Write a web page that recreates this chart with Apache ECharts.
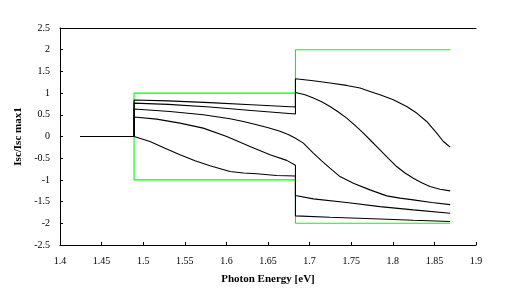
<!DOCTYPE html>
<html>
<head>
<meta charset="utf-8">
<script src="https://cdn.jsdelivr.net/npm/echarts@6/dist/echarts.min.js"></script>
<style>
  html, body { margin: 0; padding: 0; background: #fff; }
  #chart { width: 511px; height: 302px; }
</style>
</head>
<body>
<div id="chart"></div>
<script>
// Normalised short-circuit current vs photon energy [eV]
const xTicks = [1.4, 1.45, 1.5, 1.55, 1.6, 1.65, 1.7, 1.75, 1.8, 1.85, 1.9];
const yTicks = [-2.5, -2, -1.5, -1, -0.5, 0, 0.5, 1, 1.5, 2, 2.5];

// ideal response (upper and lower limits); band edges at 1.489 and 1.683 eV
const idealUpper = [[1.489, -1], [1.489, 1], [1.683, 1], [1.683, 2], [1.869, 2]];
const idealLower = [[1.489, -1], [1.683, -1], [1.683, -2], [1.869, -2]];

// response below the first band edge
const baseline = [[1.424, 0], [1.489, 0]];

// simulated curves, [energy, value]
const curve1 = [[1.489, 0], [1.489, 0.84], [1.53, 0.82], [1.58, 0.78], [1.63, 0.73], [1.683, 0.68],
  [1.683, 1.331], [1.7045, 1.285], [1.7245, 1.231], [1.7446, 1.177], [1.7606, 1.116], [1.7726, 1.039],
  [1.7846, 0.962], [1.8006, 0.847], [1.8167, 0.692], [1.8287, 0.54], [1.8407, 0.346], [1.8528, 0.078],
  [1.8608, -0.115], [1.869, -0.245]];
const curve2 = [[1.489, 0], [1.489, 0.77], [1.53, 0.74], [1.58, 0.68], [1.63, 0.6], [1.683, 0.52],
  [1.683, 1.015], [1.6945, 0.96], [1.7045, 0.886], [1.7145, 0.8], [1.7245, 0.692], [1.7346, 0.565],
  [1.7446, 0.424], [1.7546, 0.255], [1.7646, 0.078], [1.7746, -0.115], [1.7846, -0.307],
  [1.7946, -0.505], [1.8046, -0.692], [1.8147, -0.84], [1.8247, -0.96], [1.8347, -1.065],
  [1.8447, -1.153], [1.8567, -1.215], [1.869, -1.253]];
const curve3 = [[1.489, 0], [1.489, 0.632], [1.5322, 0.577], [1.5722, 0.5], [1.6043, 0.408], [1.6204, 0.345],
  [1.6364, 0.27], [1.6504, 0.2], [1.6644, 0.12], [1.675, 0.04], [1.683, -0.04], [1.6925, -0.152],
  [1.7045, -0.383], [1.7145, -0.56], [1.7245, -0.73], [1.7365, -0.923], [1.7526, -1.075], [1.7726, -1.23],
  [1.7927, -1.368], [1.8087, -1.42], [1.8247, -1.46], [1.8467, -1.52], [1.869, -1.569]];
const curve4 = [[1.489, 0], [1.489, 0.45], [1.5162, 0.4], [1.5442, 0.308], [1.5722, 0.193], [1.6004, 0.0],
  [1.6284, -0.23], [1.6524, -0.42], [1.6725, -0.55], [1.683, -0.66],
  [1.683, -1.36], [1.7045, -1.437], [1.7446, -1.52], [1.7846, -1.615], [1.8247, -1.69], [1.869, -1.77]];
const curve5 = [[1.489, 0], [1.5082, -0.115], [1.5262, -0.27], [1.5442, -0.42], [1.5623, -0.56],
  [1.5803, -0.676], [1.6043, -0.807], [1.6204, -0.84], [1.6364, -0.86], [1.6604, -0.9], [1.683, -0.91],
  [1.683, -1.83], [1.7245, -1.86], [1.7846, -1.9], [1.8247, -1.93], [1.869, -1.96]];

const serif = '"Liberation Serif", "Times New Roman", serif';

const blackCurve = (data) => ({
  type: 'line', data: data, symbol: 'none', animation: false,
  lineStyle: { color: '#000', width: 1.1 }, z: 3
});
const greenCurve = (data) => ({
  type: 'line', data: data, symbol: 'none', animation: false,
  lineStyle: { color: '#00ff00', width: 1.1 }, z: 2
});

const chart = echarts.init(document.getElementById('chart'), null, { renderer: 'canvas' });
chart.setOption({
  backgroundColor: '#fff',
  animation: false,
  grid: { left: 60, right: 35, top: 28, bottom: 57 },
  xAxis: [{
    type: 'value', min: xTicks[0], max: xTicks[xTicks.length - 1], interval: 0.05,
    name: 'Photon Energy [eV]', nameLocation: 'middle', nameGap: 29,
    nameTextStyle: { fontFamily: serif, fontWeight: 'bold', fontSize: 11, color: '#000' },
    axisLine: { onZero: false, lineStyle: { color: '#000', width: 1 } },
    axisTick: { inside: true, length: 3, lineStyle: { color: '#000' } },
    axisLabel: { fontFamily: serif, fontSize: 10, color: '#000', margin: 11,
      formatter: (v) => String(Math.round(v * 100) / 100) },
    splitLine: { show: false }
  }, {
    type: 'value', position: 'top', min: xTicks[0], max: xTicks[xTicks.length - 1],
    axisLine: { show: true, onZero: false, lineStyle: { color: '#000', width: 1 } },
    axisTick: { show: false }, axisLabel: { show: false }, splitLine: { show: false }
  }],
  yAxis: {
    type: 'value', min: yTicks[0], max: yTicks[yTicks.length - 1], interval: 0.5,
    name: 'Isc/Isc max1', nameLocation: 'middle', nameGap: 29,
    nameTextStyle: { fontFamily: serif, fontWeight: 'bold', fontSize: 11, color: '#000' },
    axisLine: { show: true, onZero: false, lineStyle: { color: '#000', width: 1 } },
    axisTick: { show: true, inside: true, length: 3, lineStyle: { color: '#000' } },
    axisLabel: { fontFamily: serif, fontSize: 10, color: '#000', margin: 10,
      formatter: (v) => String(Math.round(v * 10) / 10) },
    splitLine: { show: false }
  },
  series: [
    greenCurve(idealUpper),
    greenCurve(idealLower),
    blackCurve(baseline),
    blackCurve(curve1),
    blackCurve(curve2),
    blackCurve(curve3),
    blackCurve(curve4),
    blackCurve(curve5)
  ]
});
</script>
</body>
</html>
